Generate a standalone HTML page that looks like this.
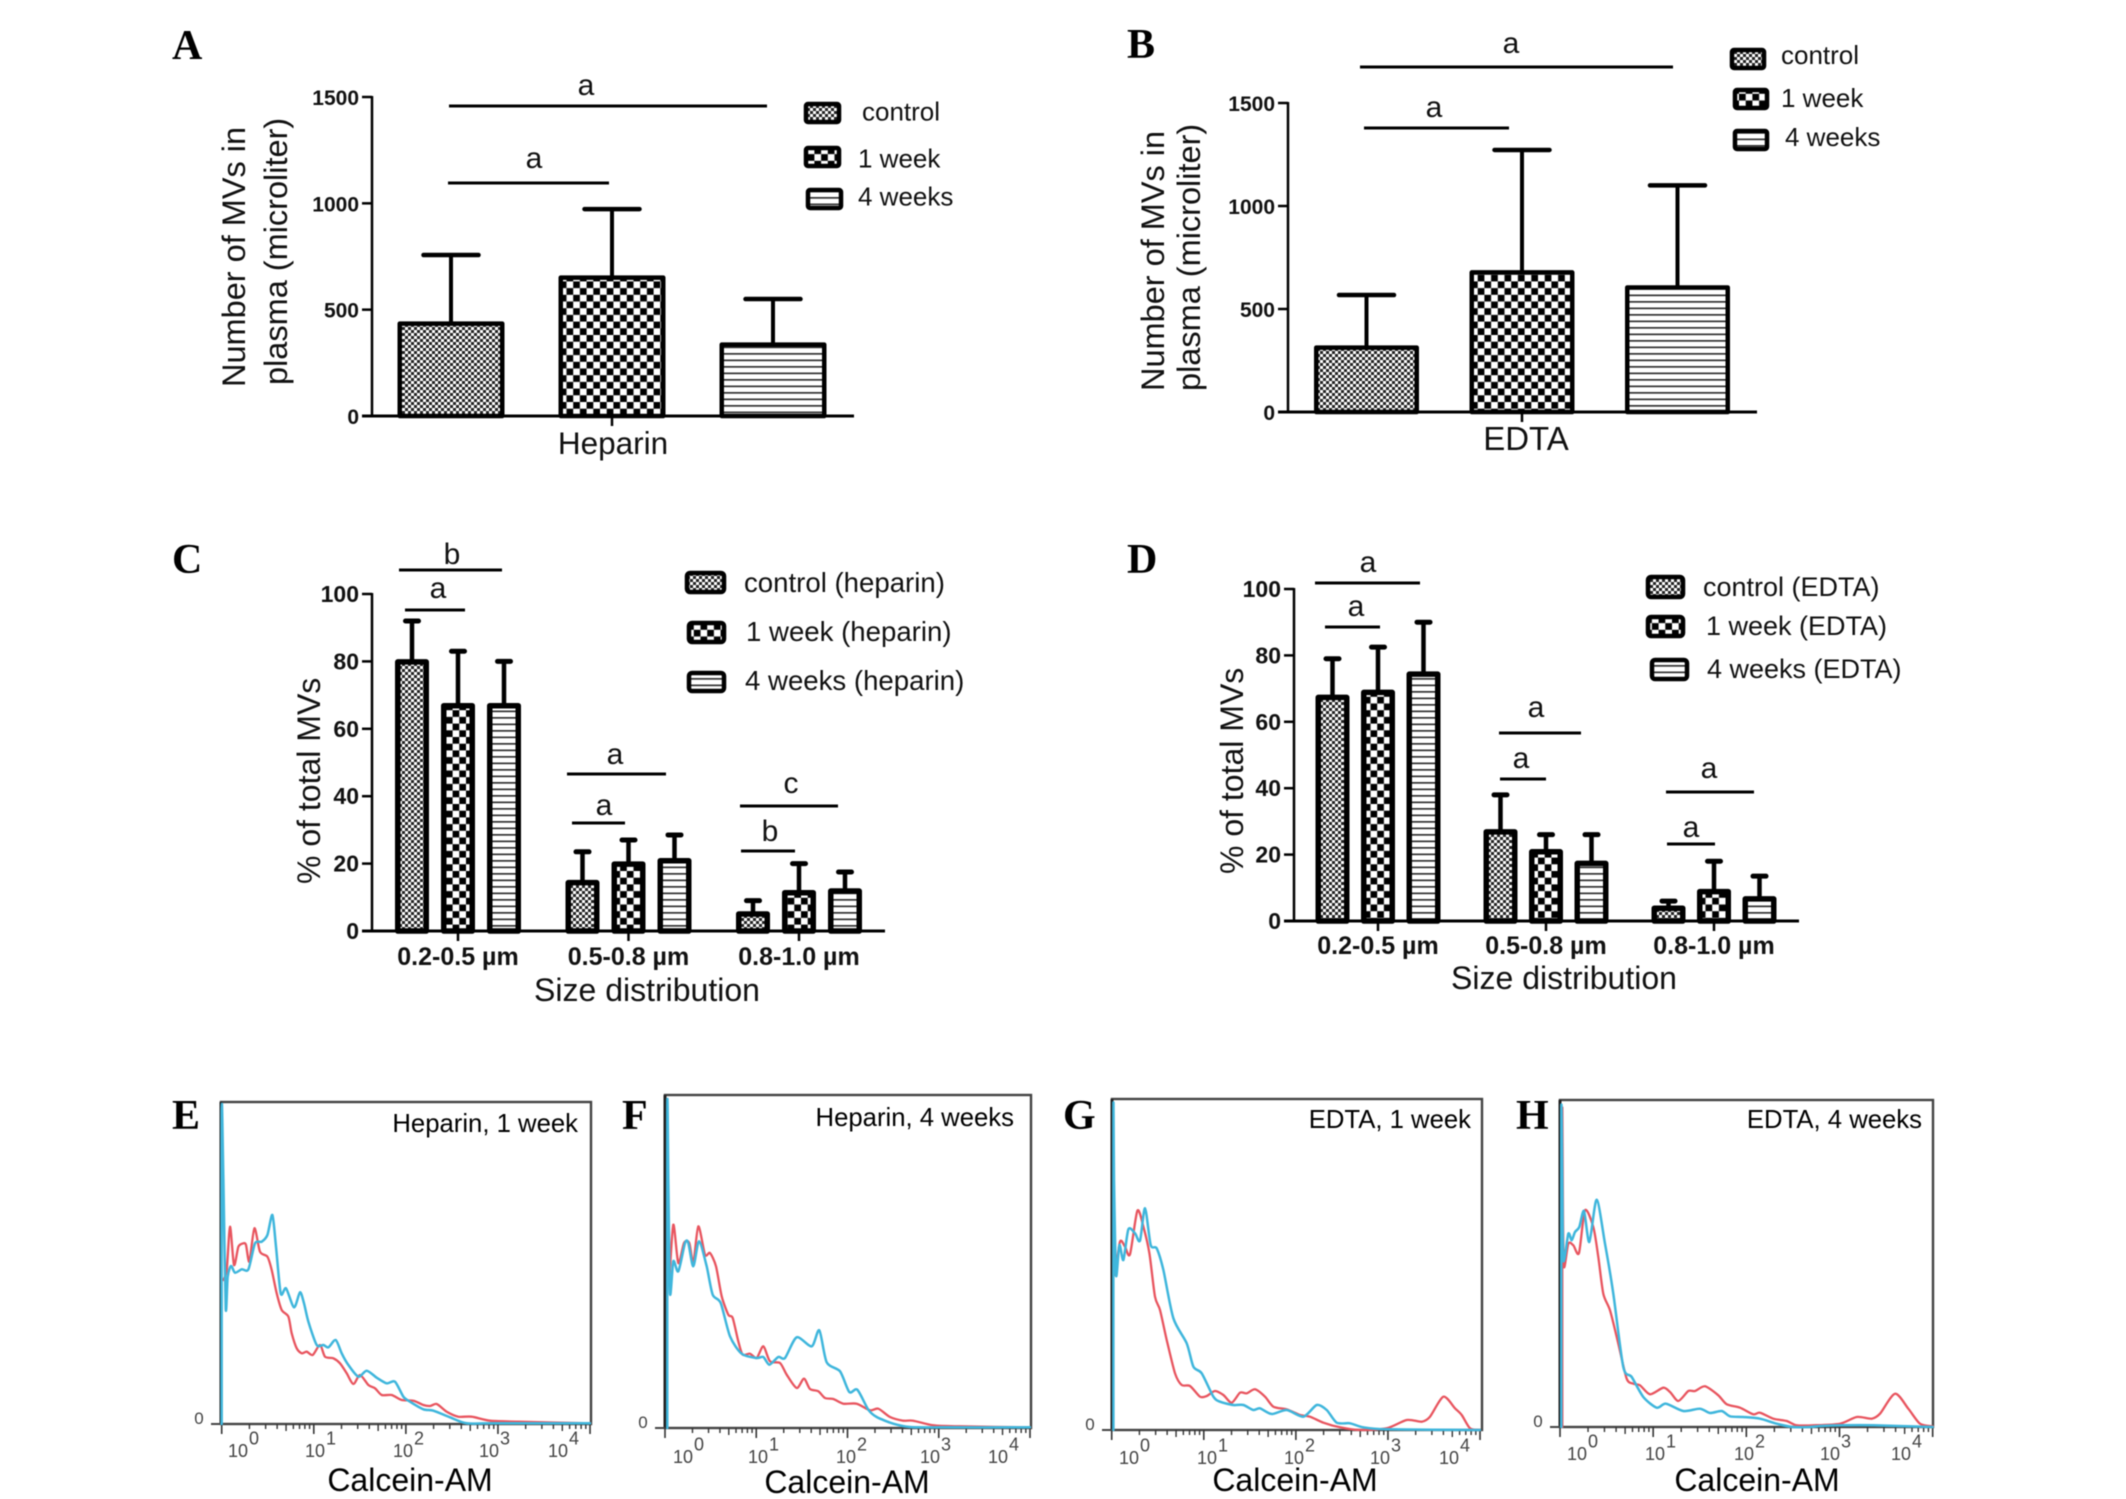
<!DOCTYPE html>
<html lang="en">
<head>
<meta charset="utf-8">
<title>Microvesicle counts and flow cytometry panels</title>
<style>
html,body{margin:0;padding:0;background:#fff;}
svg{display:block;filter:blur(0.4px);}
text{font-family:"Liberation Sans",sans-serif;fill:#111;}
.letter{font-family:"Liberation Serif",serif;font-weight:bold;font-size:42px;fill:#000;}
.sig{font-size:30px;text-anchor:middle;}
.ytitle{font-size:32.5px;}
.ytitle2{font-size:32px;}
.leg-ab{font-size:26px;}
.leg-c{font-size:27.6px;}
.leg-d{font-size:27px;}
.xtitle{font-size:32px;text-anchor:middle;}
.flow-title{font-size:25.7px;text-anchor:end;fill:#000;}
.flow-x{font-size:32px;text-anchor:middle;fill:#000;}
.flow-zero{font-size:17px;text-anchor:middle;fill:#444;}
.sigline{stroke:#000;stroke-width:3;}
.swatch{stroke:#000;stroke-width:4.5;stroke-linejoin:round;}
</style>
</head>
<body>
<svg id="figure" xmlns="http://www.w3.org/2000/svg" width="2126" height="1499" viewBox="0 0 2126 1499">
<defs>
<pattern id="p-control" patternUnits="userSpaceOnUse" width="6" height="6"><rect width="6" height="6" fill="#fff"/><rect width="3" height="3" fill="#222"/><rect x="3" y="3" width="3" height="3" fill="#222"/></pattern>
<pattern id="p-week1" patternUnits="userSpaceOnUse" width="13.4" height="13.4"><rect width="13.4" height="13.4" fill="#fff"/><rect width="6.7" height="6.7" fill="#000"/><rect x="6.7" y="6.7" width="6.7" height="6.7" fill="#000"/></pattern>
<pattern id="p-week4" patternUnits="userSpaceOnUse" width="10" height="6.5"><rect width="10" height="6.5" fill="#fff"/><rect y="2" width="10" height="1.7" fill="#333"/></pattern>
</defs>
<rect width="2126" height="1499" fill="#fff"/>

<g id="panel-a" transform="translate(-3,0)">
<text class="letter" x="175" y="59">A</text>
<text class="ytitle" transform="translate(248,387) rotate(-90)">Number of MVs in</text>
<text class="ytitle" transform="translate(290,385) rotate(-90)">plasma (microliter)</text>
<line class="sigline" x1="452" x2="770" y1="106" y2="106"/>
<text class="sig" x="589" y="95">a</text>
<line class="sigline" x1="451" x2="612" y1="183" y2="183"/>
<text class="sig" x="537" y="168">a</text>
<rect class="swatch" x="809" y="104" width="33" height="18" rx="2" fill="url(#p-control)"/>
<text class="leg-ab" x="865" y="120.5">control</text>
<rect class="swatch" x="809" y="148" width="33" height="18" rx="2" fill="url(#p-week1)"/>
<text class="leg-ab" x="861" y="167.5">1 week</text>
<rect class="swatch" x="811" y="190" width="33" height="18" rx="2" fill="url(#p-week4)"/>
<text class="leg-ab" x="861" y="205.5">4 weeks</text>
</g>

<g id="panel-b" transform="translate(-3,0)">
<text class="letter" x="1130" y="58">B</text>
<text class="ytitle" transform="translate(1167,391) rotate(-90)">Number of MVs in</text>
<text class="ytitle" transform="translate(1203,391) rotate(-90)">plasma (microliter)</text>
<line class="sigline" x1="1363" x2="1676" y1="67" y2="67"/>
<text class="sig" x="1514" y="53">a</text>
<line class="sigline" x1="1367" x2="1512" y1="128" y2="128"/>
<text class="sig" x="1437" y="117">a</text>
<rect class="swatch" x="1735" y="50" width="32" height="18" rx="2" fill="url(#p-control)"/>
<text class="leg-ab" x="1784" y="64">control</text>
<rect class="swatch" x="1738" y="90" width="32" height="18" rx="2" fill="url(#p-week1)"/>
<text class="leg-ab" x="1784" y="107">1 week</text>
<rect class="swatch" x="1738" y="131" width="32" height="18" rx="2" fill="url(#p-week4)"/>
<text class="leg-ab" x="1788" y="146">4 weeks</text>
</g>

<g id="panel-c" transform="translate(-3,0)">
<text class="letter" x="175" y="573">C</text>
<text class="ytitle2" transform="translate(323,884) rotate(-90)">% of total MVs</text>
<text class="xtitle" x="650" y="1001">Size distribution</text>
<line class="sigline" x1="402" x2="505" y1="570" y2="570"/>
<text class="sig" x="455" y="564">b</text>
<line class="sigline" x1="408" x2="468" y1="610" y2="610"/>
<text class="sig" x="441" y="598">a</text>
<line class="sigline" x1="570" x2="669" y1="774" y2="774"/>
<text class="sig" x="618" y="764">a</text>
<line class="sigline" x1="575" x2="628" y1="823" y2="823"/>
<text class="sig" x="607" y="815">a</text>
<line class="sigline" x1="743" x2="841" y1="806" y2="806"/>
<text class="sig" x="794" y="793">c</text>
<line class="sigline" x1="744" x2="798" y1="851" y2="851"/>
<text class="sig" x="773" y="841">b</text>
<rect class="swatch" x="690" y="573" width="37" height="19" rx="3" fill="url(#p-control)"/>
<text class="leg-c" x="747" y="592">control (heparin)</text>
<rect class="swatch" x="692" y="623" width="35" height="19" rx="3" fill="url(#p-week1)"/>
<text class="leg-c" x="749" y="641">1 week (heparin)</text>
<rect class="swatch" x="692" y="673" width="35" height="18" rx="3" fill="url(#p-week4)"/>
<text class="leg-c" x="748" y="690">4 weeks (heparin)</text>
</g>

<g id="panel-d" transform="translate(-3,0)">
<text class="letter" x="1130" y="573">D</text>
<text class="ytitle2" transform="translate(1246,874) rotate(-90)">% of total MVs</text>
<text class="xtitle" x="1567" y="989">Size distribution</text>
<line class="sigline" x1="1318" x2="1423" y1="583" y2="583"/>
<text class="sig" x="1371" y="572">a</text>
<line class="sigline" x1="1328" x2="1383" y1="627" y2="627"/>
<text class="sig" x="1359" y="616">a</text>
<line class="sigline" x1="1502" x2="1584" y1="733" y2="733"/>
<text class="sig" x="1539" y="717">a</text>
<line class="sigline" x1="1503" x2="1549" y1="779" y2="779"/>
<text class="sig" x="1524" y="768">a</text>
<line class="sigline" x1="1669" x2="1757" y1="792" y2="792"/>
<text class="sig" x="1712" y="778">a</text>
<line class="sigline" x1="1670" x2="1718" y1="844" y2="844"/>
<text class="sig" x="1694" y="837">a</text>
<rect class="swatch" x="1651" y="577" width="35" height="20" rx="3" fill="url(#p-control)"/>
<text class="leg-d" x="1706" y="596">control (EDTA)</text>
<rect class="swatch" x="1651" y="617" width="35" height="19" rx="3" fill="url(#p-week1)"/>
<text class="leg-d" x="1709" y="635">1 week (EDTA)</text>
<rect class="swatch" x="1655" y="660" width="35" height="19" rx="3" fill="url(#p-week4)"/>
<text class="leg-d" x="1710" y="678">4 weeks (EDTA)</text>
</g>

<g id="panel-e">
<text class="letter" x="172" y="1129">E</text>
<text class="flow-title" x="578" y="1132">Heparin, 1 week</text>
<text class="flow-x" x="410" y="1491">Calcein-AM</text>
<text class="flow-zero" x="199" y="1424">0</text>
</g>
<g id="panel-f">
<text class="letter" x="622" y="1129">F</text>
<text class="flow-title" x="1014" y="1126">Heparin, 4 weeks</text>
<text class="flow-x" x="847" y="1493">Calcein-AM</text>
<text class="flow-zero" x="643" y="1428">0</text>
</g>
<g id="panel-g">
<text class="letter" x="1063" y="1129">G</text>
<text class="flow-title" x="1471" y="1128">EDTA, 1 week</text>
<text class="flow-x" x="1295" y="1491">Calcein-AM</text>
<text class="flow-zero" x="1090" y="1430">0</text>
</g>
<g id="panel-h">
<text class="letter" x="1516" y="1129">H</text>
<text class="flow-title" x="1922" y="1128">EDTA, 4 weeks</text>
<text class="flow-x" x="1757" y="1491">Calcein-AM</text>
<text class="flow-zero" x="1538" y="1427">0</text>
</g>
</svg>

<script>
// ---- Bar chart data ----
const seriesKeys = ['control', '1-week', '4-weeks'];
const countTicks = [0, 500, 1000, 1500];
const percentTicks = [0, 20, 40, 60, 80, 100];

const aCategories = ['Heparin'];
const aControl = [437];
const aWeek1 = [653];
const aWeek4 = [338];
const aControlErr = [757];
const aWeek1Err = [973];
const aWeek4Err = [550];

const bCategories = ['EDTA'];
const bControl = [315];
const bWeek1 = [680];
const bWeek4 = [607];
const bControlErr = [568];
const bWeek1Err = [1272];
const bWeek4Err = [1100];

const sizeCategories = ['0.2-0.5 µm', '0.5-0.8 µm', '0.8-1.0 µm'];
const cControl = [80, 14.5, 5.2];
const cWeek1 = [67, 20, 11.5];
const cWeek4 = [67, 21, 12];
const cControlErr = [92, 23.5, 9];
const cWeek1Err = [83, 27, 20];
const cWeek4Err = [80, 28.5, 17.5];

const dControl = [67.5, 27, 4];
const dWeek1 = [69, 21, 9];
const dWeek4 = [74.5, 17.5, 6.8];
const dControlErr = [79, 38, 6];
const dWeek1Err = [82.5, 26, 18];
const dWeek4Err = [90, 26, 13.5];

// ---- Histogram data: [channel, events] ----
const decadeExponents = ['0', '1', '2', '3', '4'];
const minorMultiples = [2, 3, 4, 5, 6, 7, 8, 9];

const eRed = [[5,432],[15,462],[25,592],[37,477],[50,532],[65,542],[73,537],[83,487],[98,587],[115,517],[137,502],[150,462],[165,392],[180,342],[200,322],[210,272],[225,227],[240,212],[255,217],[273,207],[295,237],[310,202],[335,197],[355,182],[375,152],[395,120],[415,147],[440,117],[460,107],[480,87],[510,87],[540,72],[575,70],[605,57],[625,54],[645,60],[675,37],[710,22],[750,22],[805,10],[890,7],[1105,2]];
const eBlue = [[0,0],[0,937],[5,732],[12,347],[18,442],[28,474],[40,454],[60,464],[80,464],[100,542],[120,547],[137,567],[152,627],[163,532],[177,392],[193,407],[217,350],[235,395],[247,362],[260,307],[285,237],[305,237],[320,230],[342,252],[360,212],[380,177],[410,142],[435,160],[465,139],[495,122],[520,127],[545,82],[565,67],[605,44],[635,40],[685,20],[735,2],[815,2],[1105,2]];

const fRed = [[13,445],[25,610],[40,495],[57,555],[73,555],[85,495],[100,605],[120,520],[135,525],[153,485],[170,395],[190,340],[203,330],[220,260],[233,220],[255,223],[275,210],[295,245],[315,200],[345,195],[365,160],[395,120],[417,148],[435,117],[460,110],[480,90],[505,87],[535,73],[575,73],[615,53],[640,58],[675,33],[715,22],[745,22],[805,8],[885,5],[1095,2]];
const fBlue = [[7,0],[7,965],[10,745],[15,405],[25,500],[40,470],[60,555],[70,555],[85,485],[102,560],[125,485],[143,400],[167,375],[195,275],[230,223],[275,210],[295,213],[313,190],[340,213],[360,210],[395,272],[440,245],[463,293],[485,197],[525,170],[553,108],[577,115],[610,55],[635,33],[685,13],[735,3],[835,2],[1095,2]];

const gRed = [[10,465],[25,565],[40,550],[55,527],[77,658],[95,610],[113,530],[130,400],[145,360],[165,270],[190,170],[210,135],[235,132],[265,100],[285,102],[310,117],[335,105],[360,82],[385,112],[405,110],[430,122],[460,100],[485,70],[525,62],[565,45],[595,40],[635,22],[685,8],[745,0],[825,5],[885,30],[930,25],[955,40],[995,100],[1030,65],[1050,45],[1075,5],[1105,0]];
const gBlue = [[5,0],[5,960],[7,750],[13,465],[23,555],[35,510],[50,602],[70,590],[85,568],[100,665],[117,555],[135,545],[155,480],[185,335],[225,260],[245,190],[270,170],[305,100],[325,85],[365,75],[395,75],[425,60],[445,65],[480,48],[525,60],[575,40],[615,75],[645,60],[675,22],[715,20],[755,8],[825,2],[1105,0]];

const hRed = [[7,0],[7,945],[9,640],[12,480],[25,550],[40,545],[57,522],[75,650],[100,600],[115,510],[130,400],[150,350],[175,250],[200,145],[220,130],[240,125],[270,98],[310,118],[330,105],[355,78],[385,108],[405,108],[435,122],[475,95],[500,68],[540,58],[580,38],[600,43],[640,25],[680,18],[710,5],[760,5],[840,10],[890,30],[935,25],[960,40],[1005,100],[1045,55],[1080,10],[1118,2]];
const hBlue = [[4,0],[4,945],[7,740],[10,500],[25,580],[35,560],[45,585],[58,600],[72,648],[88,555],[110,682],[135,550],[160,400],[190,180],[215,150],[250,90],[290,58],[318,70],[370,48],[420,55],[450,42],[485,48],[510,32],[550,30],[600,25],[650,10],[700,0],[750,0],[780,3],[850,5],[940,5],[1118,0]];

// ---- Drawing ----
const NS = 'http://www.w3.org/2000/svg';
const fills = ['url(#p-control)', 'url(#p-week1)', 'url(#p-week4)'];

function make(tag, parent, attrs) {
  const node = document.createElementNS(NS, tag);
  for (const k in attrs) node.setAttribute(k, attrs[k]);
  parent.appendChild(node);
  return node;
}

function drawBarPanel(panelId, geo, ticks, categories, values, errors) {
  const root = document.getElementById(panelId);
  const yScale = v => geo.y0 - v * (geo.y0 - geo.yTop) / geo.max;
  const xScale = (group, series) => geo.center0 + group * geo.groupStep + (series - 1) * geo.offset;

  values.forEach((seriesValues, s) => {
    seriesValues.forEach((v, g) => {
      const cx = xScale(g, s);
      const stem = make('line', root, {x1: cx, x2: cx, y1: yScale(v), y2: yScale(errors[s][g]), stroke: '#000', 'stroke-width': geo.stemWidth});
      
      
      const cap = make('line', root, {x1: cx - geo.cap / 2, x2: cx + geo.cap / 2, y1: yScale(errors[s][g]), y2: yScale(errors[s][g]), stroke: '#000', 'stroke-width': geo.capWidth, 'stroke-linecap': 'round'});
      
      
      const sw = geo.barStroke;
      const topEdge = yScale(v) + 0.5;
      const bar = make('rect', root, {x: cx - geo.barWidth / 2 + sw / 2, y: topEdge, width: geo.barWidth - sw, height: Math.max(0, geo.y0 - topEdge), fill: fills[s], stroke: '#000', 'stroke-width': sw, 'stroke-linejoin': 'round'});
      
      
    });
  });

  const yAxis = make('line', root, {x1: geo.axisX, x2: geo.axisX, y1: geo.yTop - 1, y2: geo.y0, stroke: '#000', 'stroke-width': 2.5});
  
  
  const xAxis = make('line', root, {x1: geo.xStart, x2: geo.xEnd, y1: geo.y0, y2: geo.y0, stroke: '#000', 'stroke-width': 3});
  
  

  ticks.forEach(t => {
    const tick = make('line', root, {x1: geo.axisX - 10, x2: geo.axisX, y1: yScale(t), y2: yScale(t), stroke: '#000', 'stroke-width': 2.5});
    
    
    const label = make('text', root, {x: geo.axisX - 13, y: yScale(t) + 8, 'text-anchor': 'end', 'font-weight': 'bold', 'font-size': geo.tickFont});
    
    
    label.textContent = String(t);
  });

  categories.forEach((c, g) => {
    const cx = xScale(g, 1);
    const tick = make('line', root, {x1: cx, x2: cx, y1: geo.y0, y2: geo.y0 + 10, stroke: '#000', 'stroke-width': 2.5});
    
    
    const label = make('text', root, {x: cx + geo.catShift, y: geo.catBaseline, 'text-anchor': 'middle', 'font-size': geo.catFont, 'font-weight': geo.catWeight});
    
    
    label.textContent = c;
  });
}

function smoothPath(pts) {
  const T = 0.13;
  let d = 'M' + pts[0][0].toFixed(1) + ' ' + pts[0][1].toFixed(1);
  for (let i = 0; i < pts.length - 1; i++) {
    const p0 = pts[Math.max(0, i - 1)], p1 = pts[i], p2 = pts[i + 1], p3 = pts[Math.min(pts.length - 1, i + 2)];
    const c1x = p1[0] + (p2[0] - p0[0]) * T, c1y = p1[1] + (p2[1] - p0[1]) * T;
    const c2x = p2[0] - (p3[0] - p1[0]) * T, c2y = p2[1] - (p3[1] - p1[1]) * T;
    d += 'C' + c1x.toFixed(1) + ' ' + c1y.toFixed(1) + ' ' + c2x.toFixed(1) + ' ' + c2y.toFixed(1) + ' ' + p2[0].toFixed(1) + ' ' + p2[1].toFixed(1);
  }
  return d;
}

function drawFlowPanel(panelId, geo, red, blue) {
  const root = document.getElementById(panelId);
  const PX = 1 / 3;
  const xScale = ch => geo.x0 + ch * PX;
  const yScale = ev => geo.bottom - ev * PX;
  const decadeWidth = geo.chMax * PX / 4;

  const box = make('rect', root, {x: geo.left, y: geo.top, width: geo.right - geo.left, height: geo.bottom - geo.top, fill: 'none', stroke: '#444', 'stroke-width': 2.4});
  
  
  const leftEdge = make('line', root, {x1: geo.left, x2: geo.left, y1: geo.top, y2: geo.bottom, stroke: '#222', 'stroke-width': 3});
  
  
  const baseline = make('line', root, {x1: geo.zeroLeft, x2: geo.left, y1: geo.bottom, y2: geo.bottom, stroke: '#444', 'stroke-width': 2});
  
  

  decadeExponents.forEach((exp, d) => {
    const px = geo.x0 + d * decadeWidth;
    const major = make('line', root, {x1: px, x2: px, y1: geo.bottom, y2: geo.bottom + 10, stroke: '#333', 'stroke-width': 1.6});
    
    
    if (d < 4) {
      minorMultiples.forEach(m => {
        const mx = px + Math.log10(m) * decadeWidth;
        const minor = make('line', root, {x1: mx, x2: mx, y1: geo.bottom, y2: geo.bottom + (m === 5 ? 7 : 5), stroke: '#333', 'stroke-width': 1.4});
        
        
      });
    }
    const label = make('text', root, {x: geo.labelX[d], y: geo.labelBaseline, 'font-size': 18});
    
    
    label.style.fill = '#444';
    label.textContent = '10';
    const sup = make('tspan', label, {dx: 1, dy: -12.5});
    
    
    sup.textContent = exp;
  });

  const toPx = series => series.map(p => [xScale(p[0]), yScale(p[1])]);
  const redLine = make('path', root, {d: smoothPath(toPx(red)), fill: 'none', stroke: '#e8555f', 'stroke-width': 2.3, 'stroke-linejoin': 'round', 'stroke-linecap': 'round'});
  
  
  const blueLine = make('path', root, {d: smoothPath(toPx(blue)), fill: 'none', stroke: '#3fb6dc', 'stroke-width': 2.5, 'stroke-linejoin': 'round', 'stroke-linecap': 'round'});
  
  
}

const abBase = {max: 1500, groupStep: 0, barWidth: 107, cap: 55, capWidth: 4.5, stemWidth: 4, barStroke: 4.5, tickFont: 21, catWeight: 'normal'};
drawBarPanel('panel-a', Object.assign({}, abBase, {axisX: 375, xStart: 365, xEnd: 857, y0: 416, yTop: 97, center0: 615, offset: 161, catBaseline: 454, catFont: 31.5, catShift: 1}),
  countTicks, aCategories, [aControl, aWeek1, aWeek4], [aControlErr, aWeek1Err, aWeek4Err]);
drawBarPanel('panel-b', Object.assign({}, abBase, {axisX: 1291, xStart: 1281, xEnd: 1760, y0: 412, yTop: 103, center0: 1525, offset: 155.5, barWidth: 105, catBaseline: 450, catFont: 33, catShift: 4}),
  countTicks, bCategories, [bControl, bWeek1, bWeek4], [bControlErr, bWeek1Err, bWeek4Err]);

const cdBase = {max: 100, barWidth: 34, cap: 13, capWidth: 5, stemWidth: 4.5, barStroke: 5.5, tickFont: 23, catFont: 25, catWeight: 'bold', catShift: 0};
drawBarPanel('panel-c', Object.assign({}, cdBase, {axisX: 375, xStart: 365, xEnd: 888, y0: 931, yTop: 594, center0: 461, groupStep: 170.5, offset: 46, catBaseline: 965}),
  percentTicks, sizeCategories, [cControl, cWeek1, cWeek4], [cControlErr, cWeek1Err, cWeek4Err]);
drawBarPanel('panel-d', Object.assign({}, cdBase, {axisX: 1297, xStart: 1287, xEnd: 1802, y0: 921, yTop: 589, center0: 1381, groupStep: 168, offset: 45.5, catBaseline: 954}),
  percentTicks, sizeCategories, [dControl, dWeek1, dWeek4], [dControlErr, dWeek1Err, dWeek4Err]);

drawFlowPanel('panel-e', {left: 221, right: 591, top: 1102, bottom: 1424, x0: 221.7, chMax: 1105, zeroLeft: 211, labelX: [228, 305, 393, 479, 548], labelBaseline: 1457}, eRed, eBlue);
drawFlowPanel('panel-f', {left: 665, right: 1031, top: 1095, bottom: 1428, x0: 665, chMax: 1095, zeroLeft: 655, labelX: [673, 748, 836, 920, 988], labelBaseline: 1463}, fRed, fBlue);
drawFlowPanel('panel-g', {left: 1112, right: 1482, top: 1099, bottom: 1430, x0: 1111.7, chMax: 1105, zeroLeft: 1102, labelX: [1119, 1197, 1284, 1370, 1439], labelBaseline: 1464}, gRed, gBlue);
drawFlowPanel('panel-h', {left: 1560, right: 1933, top: 1100, bottom: 1427, x0: 1560, chMax: 1118, zeroLeft: 1550, labelX: [1567, 1645, 1734, 1820, 1891], labelBaseline: 1460}, hRed, hBlue);
</script>
</body>
</html>
